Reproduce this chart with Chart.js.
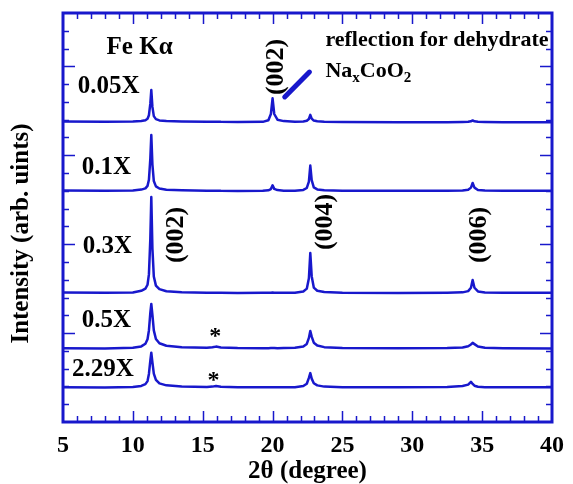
<!DOCTYPE html>
<html>
<head>
<meta charset="utf-8">
<script src="https://cdn.jsdelivr.net/npm/chart.js@4.4.1/dist/chart.umd.min.js"></script>
<style>
  html, body { margin: 0; padding: 0; background: #fff; }
  #wrap { width: 573px; height: 484px; }
</style>
</head>
<body>
<div id="wrap"><canvas id="xrd-chart" width="573" height="484"></canvas></div>
<script>
// 2theta grid (degree), shared by all patterns
const twoTheta = [5, 8, 10, 10.6, 10.9, 11.05, 11.15, 11.25, 11.32, 11.4, 11.5, 11.65, 11.9, 12.4, 13.5,
  15.3, 15.7, 15.95, 16.3, 17.5, 19.3, 19.7, 19.88, 20.0, 20.12, 20.35, 20.8, 21.6,
  22.2, 22.45, 22.6, 22.7, 22.8, 22.95, 23.2, 23.7, 25, 29, 32.5,
  33.6, 34.0, 34.2, 34.32, 34.45, 34.7, 35.2, 36.5, 40];

// stacked intensities (arb. units, already offset)
const int005 = [16.90, 16.88, 16.90, 16.93, 16.97, 17.05, 17.25, 17.90, 18.67, 17.72, 17.20, 17.03, 16.96, 16.92, 16.90,
  16.88, 16.88, 16.89, 16.88, 16.87, 16.88, 16.97, 17.32, 18.20, 17.32, 17.00, 16.92, 16.88,
  16.90, 16.94, 17.04, 17.27, 17.06, 16.95, 16.91, 16.89, 16.87, 16.86, 16.86,
  16.87, 16.88, 16.91, 16.96, 16.91, 16.88, 16.87, 16.86, 16.86];
const int01 = [13.02, 13.00, 13.02, 13.07, 13.14, 13.28, 13.62, 14.80, 16.14, 14.48, 13.55, 13.25, 13.13, 13.06, 13.03,
  13.01, 13.00, 13.01, 13.00, 12.99, 13.00, 13.03, 13.10, 13.31, 13.11, 13.04, 13.01, 13.00,
  13.05, 13.16, 13.52, 14.42, 13.60, 13.19, 13.08, 13.03, 13.01, 13.00, 13.00,
  13.02, 13.06, 13.18, 13.44, 13.18, 13.05, 13.02, 13.00, 13.00];
const int03 = [7.28, 7.27, 7.28, 7.38, 7.50, 7.72, 8.30, 10.30, 12.65, 9.75, 8.18, 7.67, 7.47, 7.35, 7.29,
  7.27, 7.27, 7.27, 7.27, 7.26, 7.27, 7.27, 7.27, 7.28, 7.27, 7.27, 7.27, 7.27,
  7.34, 7.50, 8.08, 9.50, 8.20, 7.56, 7.38, 7.31, 7.27, 7.26, 7.27,
  7.29, 7.36, 7.55, 7.98, 7.55, 7.34, 7.28, 7.27, 7.27];
const int05 = [4.15, 4.14, 4.17, 4.25, 4.40, 4.65, 5.15, 6.14, 6.64, 6.02, 5.15, 4.67, 4.43, 4.29, 4.21,
  4.17, 4.20, 4.24, 4.19, 4.16, 4.15, 4.15, 4.16, 4.16, 4.16, 4.15, 4.16, 4.17,
  4.25, 4.39, 4.73, 5.12, 4.80, 4.46, 4.30, 4.21, 4.16, 4.15, 4.16,
  4.19, 4.26, 4.36, 4.45, 4.38, 4.24, 4.17, 4.15, 4.14];
const int229 = [1.95, 1.94, 1.97, 2.03, 2.13, 2.30, 2.70, 3.45, 3.90, 3.35, 2.72, 2.37, 2.17, 2.06, 2.00,
  1.97, 1.99, 2.02, 1.98, 1.96, 1.95, 1.95, 1.96, 1.96, 1.95, 1.95, 1.95, 1.96,
  2.02, 2.15, 2.48, 2.75, 2.44, 2.18, 2.06, 1.99, 1.96, 1.95, 1.97,
  2.02, 2.10, 2.26, 2.14, 2.04, 1.98, 1.96, 1.95, 1.95];

const sampleNames = ["0.05X", "0.1X", "0.3X", "0.5X", "2.29X"];
const patterns = [int005, int01, int03, int05, int229];
const xTicks = [5, 10, 15, 20, 25, 30, 35, 40];

const BLUE = "#1818cc";
const SERIF = "'Liberation Serif', 'Times New Roman', serif";

// text placed in data coordinates [2theta, intensity]
const sampleLabelPos = [[6.06, 18.50], [6.35, 13.95], [6.42, 9.50], [6.35, 5.34], [5.64, 2.56]];
const peakNames = ["(002)", "(002)", "(004)", "(006)"];
const peakLabelPos = [[20.30, 19.97], [13.11, 10.52], [23.78, 11.25], [34.83, 10.52]];
const starPos = [[15.89, 5.12], [15.77, 2.64]];

const decorations = {
  id: "decorations",
  afterDatasetsDraw(chart) {
    const { ctx, chartArea: a, scales: { x, y } } = chart;
    const px = (v) => x.getPixelForValue(v);
    const py = (v) => y.getPixelForValue(v);
    ctx.save();

    // inward ticks on all four sides
    ctx.strokeStyle = BLUE;
    ctx.lineWidth = 1.5;
    ctx.beginPath();
    for (let v = 6; v < 40; v++) {
      const X = Math.round(px(v)) + 0.5;
      const len = v % 5 === 0 ? 11 : 6;
      ctx.moveTo(X, a.bottom); ctx.lineTo(X, a.bottom - len);
      ctx.moveTo(X, a.top); ctx.lineTo(X, a.top + len);
    }
    for (let v = 1; v < 23; v++) {
      const Y = Math.round(py(v)) + 0.5;
      const len = v % 5 === 0 ? 12 : 6;
      ctx.moveTo(a.left, Y); ctx.lineTo(a.left + len, Y);
      ctx.moveTo(a.right, Y); ctx.lineTo(a.right - len, Y);
    }
    ctx.stroke();

    // frame
    ctx.lineWidth = 3;
    ctx.strokeRect(a.left, a.top, a.right - a.left, a.bottom - a.top);

    // pointer to the dehydrate reflection
    ctx.lineWidth = 5;
    ctx.lineCap = "round";
    ctx.beginPath();
    ctx.moveTo(px(20.87), py(18.28));
    ctx.lineTo(px(22.64), py(19.68));
    ctx.stroke();

    ctx.fillStyle = "#000";
    ctx.textAlign = "left";
    ctx.textBaseline = "alphabetic";

    ctx.font = "bold 25px " + SERIF;
    ctx.fillText("Fe K\u03b1", px(8.12), py(20.70));
    sampleNames.forEach((s, i) => {
      ctx.fillText(s, px(sampleLabelPos[i][0]), py(sampleLabelPos[i][1]));
    });

    ctx.font = "bold 22px " + SERIF;
    ctx.fillText("reflection for dehydrate", px(23.78), py(21.12));
    let cx = px(23.78);
    const by = py(19.40);
    const parts = [["Na", 0], ["x", 1], ["CoO", 0], ["2", 1]];
    parts.forEach(([t, sub]) => {
      ctx.font = sub ? "bold 15px " + SERIF : "bold 22px " + SERIF;
      ctx.fillText(t, cx, by + (sub ? 5 : 0));
      cx += ctx.measureText(t).width;
    });

    // peak indices, rotated
    ctx.font = "bold 26px " + SERIF;
    ctx.textAlign = "center";
    ctx.textBaseline = "middle";
    peakNames.forEach((s, i) => {
      ctx.save();
      ctx.translate(px(peakLabelPos[i][0]), py(peakLabelPos[i][1]));
      ctx.rotate(-Math.PI / 2);
      ctx.fillText(s, 0, 0);
      ctx.restore();
    });

    // impurity marks
    ctx.font = "bold 24px " + SERIF;
    ctx.textBaseline = "alphabetic";
    starPos.forEach(([sx, sy]) => ctx.fillText("*", px(sx), py(sy) + 12));

    // y axis title
    ctx.font = "bold 25px " + SERIF;
    ctx.textBaseline = "middle";
    ctx.translate(a.left - 41, (a.top + a.bottom) / 2 + 16);
    ctx.rotate(-Math.PI / 2);
    ctx.fillText("Intensity (arb. uints)", 0, 0);
    ctx.restore();
  }
};

const ctx = document.getElementById("xrd-chart").getContext("2d");
const xrdChart = new Chart(ctx, {
  type: "line",
  data: {
    datasets: patterns.map((p, k) => ({
      label: sampleNames[k],
      data: twoTheta.map((t, i) => ({ x: t, y: p[i] })),
      borderColor: BLUE,
      borderWidth: 2.5,
      borderJoinStyle: "round",
      pointRadius: 0,
      tension: 0,
      fill: false,
    })),
  },
  options: {
    responsive: false,
    animation: false,
    devicePixelRatio: 1,
    layout: { padding: { top: 13, right: 16, left: 0, bottom: 0 } },
    plugins: { legend: { display: false }, tooltip: { enabled: false } },
    scales: {
      x: {
        type: "linear",
        min: 5,
        max: 40,
        afterBuildTicks: (s) => { s.ticks = xTicks.map((v) => ({ value: v })); },
        afterFit: (s) => { s.height = 62; },
        grid: { display: false, drawTicks: false },
        border: { display: false },
        ticks: {
          padding: 9,
          color: "#000",
          font: { family: SERIF, size: 24, weight: "bold" },
          maxRotation: 0,
        },
        title: {
          display: true,
          text: "2\u03b8 (degree)",
          color: "#000",
          font: { family: SERIF, size: 25, weight: "bold", lineHeight: 1 },
          padding: { top: 0, bottom: 0 },
        },
      },
      y: {
        type: "linear",
        min: 0,
        max: 23,
        afterFit: (s) => { s.width = 63; },
        grid: { display: false, drawTicks: false },
        border: { display: false },
        ticks: { display: false },
      },
    },
  },
  plugins: [decorations],
});
</script>
</body>
</html>
